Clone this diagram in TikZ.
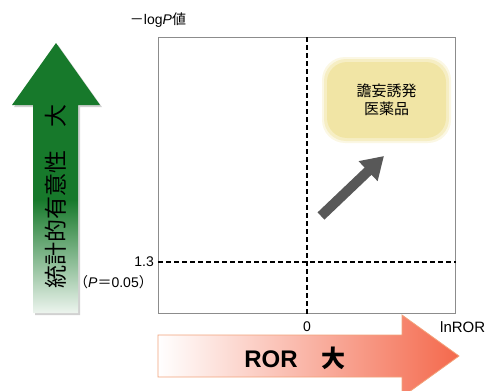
\documentclass[tikz,border=0pt]{standalone}
\usepackage{fontspec}
\setmainfont{Liberation Sans}
\newfontfamily\cjk{Noto Sans CJK JP}
\usetikzlibrary{arrows.meta}
\definecolor{arrowgreen}{HTML}{17792B}
\definecolor{rorred}{HTML}{F4694C}
\definecolor{rorline}{HTML}{F2A27A}
\definecolor{boxyellow}{HTML}{F1E5A5}
\definecolor{framegray}{HTML}{8C8C8C}
\definecolor{pointergray}{HTML}{585858}
\pgfdeclareverticalshading{greenfade}{100bp}{color(0bp)=(white); color(25bp)=(white!92!arrowgreen); color(46bp)=(arrowgreen); color(100bp)=(arrowgreen)}
\begin{document}
\begin{tikzpicture}[x=1pt,y=-1pt,
  axislabel/.style={font=\fontsize{14}{14}\selectfont, inner sep=0pt},
  dashline/.style={draw=black, line width=1.1pt, dash pattern=on 5pt off 3pt},
  yellowbox/.style={fill=boxyellow, rounded corners=20pt, inner sep=0pt, align=center,
    font=\cjk\fontsize{15}{18}\selectfont},
  pointer/.style={draw=pointergray, line width=10pt, -{Triangle[width=26pt,length=22pt]}}
]
\useasboundingbox (0,0) rectangle (488,391);

% green arrow
\fill[black!18] (35,315) -- (35,107) -- (14,107) -- (58,45) -- (102,107) -- (80,107) -- (80,315) -- cycle;
\path[shading=greenfade] (33,313) -- (33,105) -- (12,105) -- (56,43) -- (100,105) -- (78,105) -- (78,313) -- cycle;
\node[rotate=90, font=\cjk\fontsize{23}{23}\selectfont, inner sep=0pt] (signif) at (56,196) {統計的有意性　大};

% plot frame
\node[draw=framegray, line width=1pt, minimum width=297pt, minimum height=276pt, inner sep=0pt, anchor=north west] (plot) at (158,37) {};
\coordinate (zero) at (307,262);
\draw[dashline] (zero |- plot.north) -- (zero |- plot.south);
\draw[dashline] (plot.west |- zero) -- (plot.east |- zero);

% axis labels
\node[axislabel] (ylab) at (158,20) {{\cjk －}log\textit{P}{\cjk 値}};
\node[axislabel, anchor=east] (thr) at (154,262) {1.3};
\node[axislabel, anchor=east] (pval) at (153,282) {{\cjk （}\textit{P}{\cjk ＝}0.05{\cjk ）}};
\node[axislabel] (zlab) at (307,327) {0};
\node[axislabel, anchor=west, font=\fontsize{15}{15}\selectfont] (xlab) at (440,327) {lnROR};

% yellow box
\fill[boxyellow, opacity=0.3, rounded corners=23pt] (322,57) rectangle (451,143);
\fill[boxyellow, opacity=0.5, rounded corners=22pt] (324,59) rectangle (449,141);
\node[yellowbox, minimum width=119pt, minimum height=76pt] (drug) at (386.5,100) {譫妄誘発\\医薬品};

% pointer arrow
\coordinate (ptrstart) at (321,216);
\coordinate (ptrend) at (384,156);
\draw[pointer] (ptrstart) -- (ptrend);

% ROR arrow
\path[draw=rorline, line width=0.8pt, left color=white, right color=rorred]
  (158,335) -- (402,335) -- (402,315) -- (459,356) -- (402,397) -- (402,377) -- (158,377) -- cycle;
\node[font=\bfseries\fontsize{24}{24}\selectfont, inner sep=0pt] (ror) at (295,358) {ROR{\cjk\bfseries 　大}};
\end{tikzpicture}
\end{document}
